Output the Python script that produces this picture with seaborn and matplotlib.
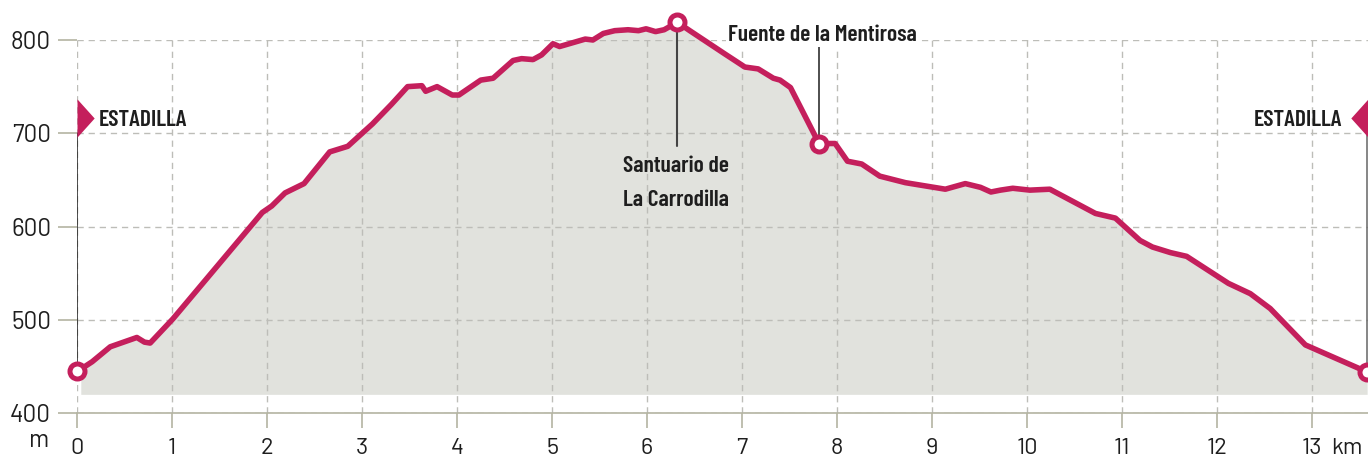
import matplotlib
matplotlib.use("Agg")
import matplotlib.pyplot as plt
from matplotlib.path import Path
import seaborn as sns
import pandas as pd

# distance (km) and altitude (m)
km = [0, 0.04, 0.16, 0.35, 0.63, 0.71, 0.77, 1.01, 1.95, 2.05, 2.19, 2.39, 2.66, 2.85, 3.11, 3.31, 3.48,
      3.63, 3.67, 3.79, 3.95, 4.02, 4.25, 4.38, 4.59, 4.68, 4.80, 4.89, 5.01, 5.08, 5.35, 5.43, 5.54,
      5.66, 5.80, 5.91, 5.99, 6.09, 6.18, 6.32, 6.45, 6.82, 7.03, 7.17, 7.33, 7.40, 7.51, 7.61, 7.81,
      7.98, 8.11, 8.26, 8.45, 8.72, 9.14, 9.35, 9.51, 9.62, 9.72, 9.85, 10.03, 10.24, 10.72, 10.93,
      11.19, 11.32, 11.51, 11.68, 12.12, 12.35, 12.56, 12.93, 13.40, 13.58]
alt = [445, 447, 455, 471, 481, 476, 475, 501, 615, 622, 636, 646, 680, 686, 710, 731, 750,
       751, 745, 750, 741, 741, 757, 759, 778, 780, 779, 784, 796, 793, 801, 800, 807,
       810, 811, 810, 812, 809, 811, 819, 810, 785, 771, 769, 759, 757, 749, 729, 689,
       689, 670, 667, 654, 647, 640, 646, 642, 637, 639, 641, 639, 640, 614, 609,
       585, 578, 572, 568, 539, 528, 512, 473, 452, 444]
x_ticks = list(range(14))
y_ticks = [400, 500, 600, 700, 800]
stop_km = [0, 6.32, 7.81, 13.58]
stop_alt = [445, 819, 689, 444]

PINK = "#C41F5C"
GRID = "#BDBDB8"
AXIS = "#B4B4A2"
INK = "#1E1E1E"
# condensed DIN look where available, plain sans otherwise
LABEL_FONT = ["Barlow Condensed", "Liberation Sans", "DejaVu Sans"]

sns.set_style("white")
plt.rcParams["font.family"] = ["Barlow", "Roboto", "DejaVu Sans"]

df = pd.DataFrame({"km": km, "alt": alt})

fig = plt.figure(figsize=(13.68, 4.57), dpi=100)
ax = fig.add_axes([77 / 1368, 44 / 457, 1 - 77 / 1368, 373 / 457])
ax.set_xlim(0, 13.589)
ax.set_ylim(400, 800)

ax.fill_between(km[1:], alt[1:], 420, color="#E1E2DD", lw=0, zorder=1, clip_on=False)
ax.set_axisbelow("line")
ax.grid(True, color=GRID, lw=1.0, ls=(0, (4.5, 3.5)))

# leader lines go under the profile line
ax.plot([0, 0], [445, 700], color=INK, lw=1.1, zorder=1.8)
ax.plot([13.58, 13.58], [444, 700], color="#666666", lw=1.1, zorder=1.8, clip_on=False)
ax.plot([6.32, 6.32], [686, 819], color="#444444", lw=1.5, zorder=1.8, clip_on=False)
ax.plot([7.81, 7.81], [689, 792], color=INK, lw=1.1, zorder=1.8)

sns.lineplot(data=df, x="km", y="alt", ax=ax, color=PINK, lw=4, zorder=3, clip_on=False,
             estimator=None, sort=False)
ax.plot(stop_km, stop_alt, ls="none", marker="o", ms=10.8, mfc="white", mec=PINK, mew=3.6,
        zorder=4, clip_on=False)

# start and finish flags
flag_r = Path([(0, -1), (0.9, 0), (0, 1), (0, -1)], closed=True)
flag_l = Path([(0, -1), (-0.9, 0), (0, 1), (0, -1)], closed=True)
ax.plot([0], [716], marker=flag_r, ms=27.5, color=PINK, mew=0, zorder=4, clip_on=False)
ax.plot([13.589], [716], marker=flag_l, ms=27.5, color=PINK, mew=0, zorder=4, clip_on=False)

label_kw = dict(family=LABEL_FONT, weight="semibold", fontsize=17, color=INK, zorder=5, va="center")
ax.text(0.23, 714, "ESTADILLA", ha="left", **label_kw)
ax.text(13.32, 714, "ESTADILLA", ha="right", **label_kw)
ax.text(5.75, 665, "Santuario de", ha="left", **label_kw)
ax.text(5.75, 628, "La Carrodilla", ha="left", **label_kw)
ax.text(6.85, 805, "Fuente de la Mentirosa", ha="left",
        bbox=dict(fc="white", ec="none", pad=1.5), clip_on=False, **label_kw)

sns.despine(ax=ax, left=True, right=True, top=True)
ax.spines["bottom"].set_color(AXIS)
ax.spines["bottom"].set_linewidth(1.2)

ax.set_xticks(x_ticks)
ax.set_yticks(y_ticks)
ax.tick_params(axis="x", length=10.8, width=1.2, color=AXIS, labelsize=17, labelcolor=INK, pad=7, bottom=True)
ax.tick_params(axis="y", length=13.7, width=1.2, color=AXIS, labelsize=17.5, labelcolor=INK, pad=5, left=True)
ax.set_xlabel("")
ax.set_ylabel("")

ax.annotate("m", xy=(0, 400), xycoords="data", xytext=(-27, -20), textcoords="offset points",
            ha="center", va="center", fontsize=17.5, color=INK, annotation_clip=False)
ax.annotate("km", xy=(13, 400), xycoords="data", xytext=(14, -29.5), textcoords="offset points",
            ha="left", va="baseline", fontsize=17, color=INK, annotation_clip=False)

fig.savefig("out.png", dpi=100)
